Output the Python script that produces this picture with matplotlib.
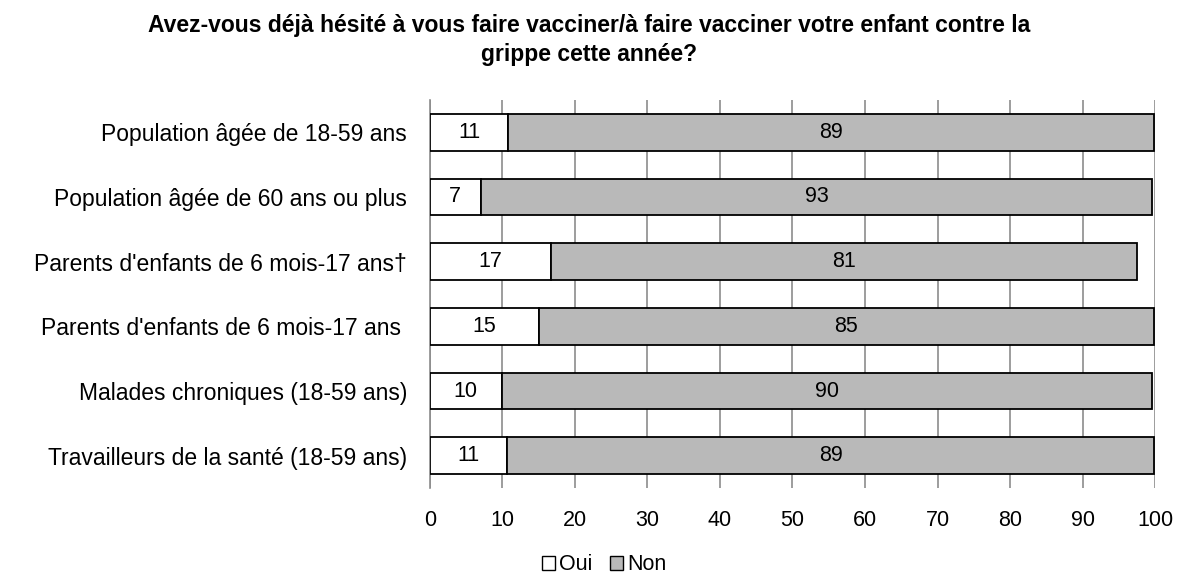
import matplotlib
matplotlib.use("Agg")
import matplotlib.pyplot as plt
from matplotlib.patches import Patch

plt.rcParams["font.family"] = ["Liberation Sans", "DejaVu Sans"]

# données (%)
categories = [
    "Population âgée de 18-59 ans",
    "Population âgée de 60 ans ou plus",
    "Parents d'enfants de 6 mois-17 ans†",
    "Parents d'enfants de 6 mois-17 ans ",
    "Malades chroniques (18-59 ans)",
    "Travailleurs de la santé (18-59 ans)",
]
oui = [10.8, 7.0, 16.7, 15.0, 9.9, 10.6]
non = [89.1, 92.6, 80.8, 84.8, 89.7, 89.3]
xticks = list(range(0, 101, 10))

title = ("Avez-vous déjà hésité à vous faire vacciner/à faire vacciner votre enfant contre la\n"
         "grippe cette année?")

fig = plt.figure(figsize=(11.78, 5.8), dpi=100)
ax = fig.add_axes([0.365, 0.1586, 0.6155, 0.669])

y = list(range(len(categories)))
ax.barh(y, oui, height=0.57, color="white", edgecolor="black", linewidth=1.3, zorder=3)
ax.barh(y, non, left=oui, height=0.57, color="#b9b9b9", edgecolor="black", linewidth=1.3, zorder=3)

for i in y:
    ax.text(oui[i] / 2, i, f"{round(oui[i])}", ha="center", va="center", fontsize=15.5, zorder=4)
    ax.text(oui[i] + non[i] / 2, i, f"{round(non[i])}", ha="center", va="center", fontsize=15.5, zorder=4)

ax.set_xlim(0, 100)
ax.set_ylim(len(categories) - 0.5, -0.5)
ax.set_xticks(xticks)
ax.set_yticks(y)
ax.set_yticklabels(categories, fontsize=16.5)
ax.tick_params(axis="x", labelsize=15.5, length=0, pad=15.5)
ax.tick_params(axis="y", length=0, pad=16.5)
ax.xaxis.grid(True, color="#8c8c8c", linewidth=1.2, zorder=0)
for s in ["top", "right", "bottom"]:
    ax.spines[s].set_visible(False)
ax.spines["left"].set_color("#8c8c8c")
ax.spines["left"].set_linewidth(1.2)

fig.text(0.5, 0.931, title, ha="center", va="center", fontsize=16.5,
         fontweight="bold", linespacing=1.31)

handles = [Patch(facecolor="white", edgecolor="black", label="Oui"),
           Patch(facecolor="#b9b9b9", edgecolor="black", label="Non")]
fig.legend(handles=handles, loc="center", bbox_to_anchor=(0.513, 0.026), ncol=2,
           frameon=False, fontsize=15.5, handlelength=0.6, handleheight=0.6,
           handletextpad=0.2, columnspacing=0.8, borderpad=0)

fig.savefig("out.png", dpi=100)
